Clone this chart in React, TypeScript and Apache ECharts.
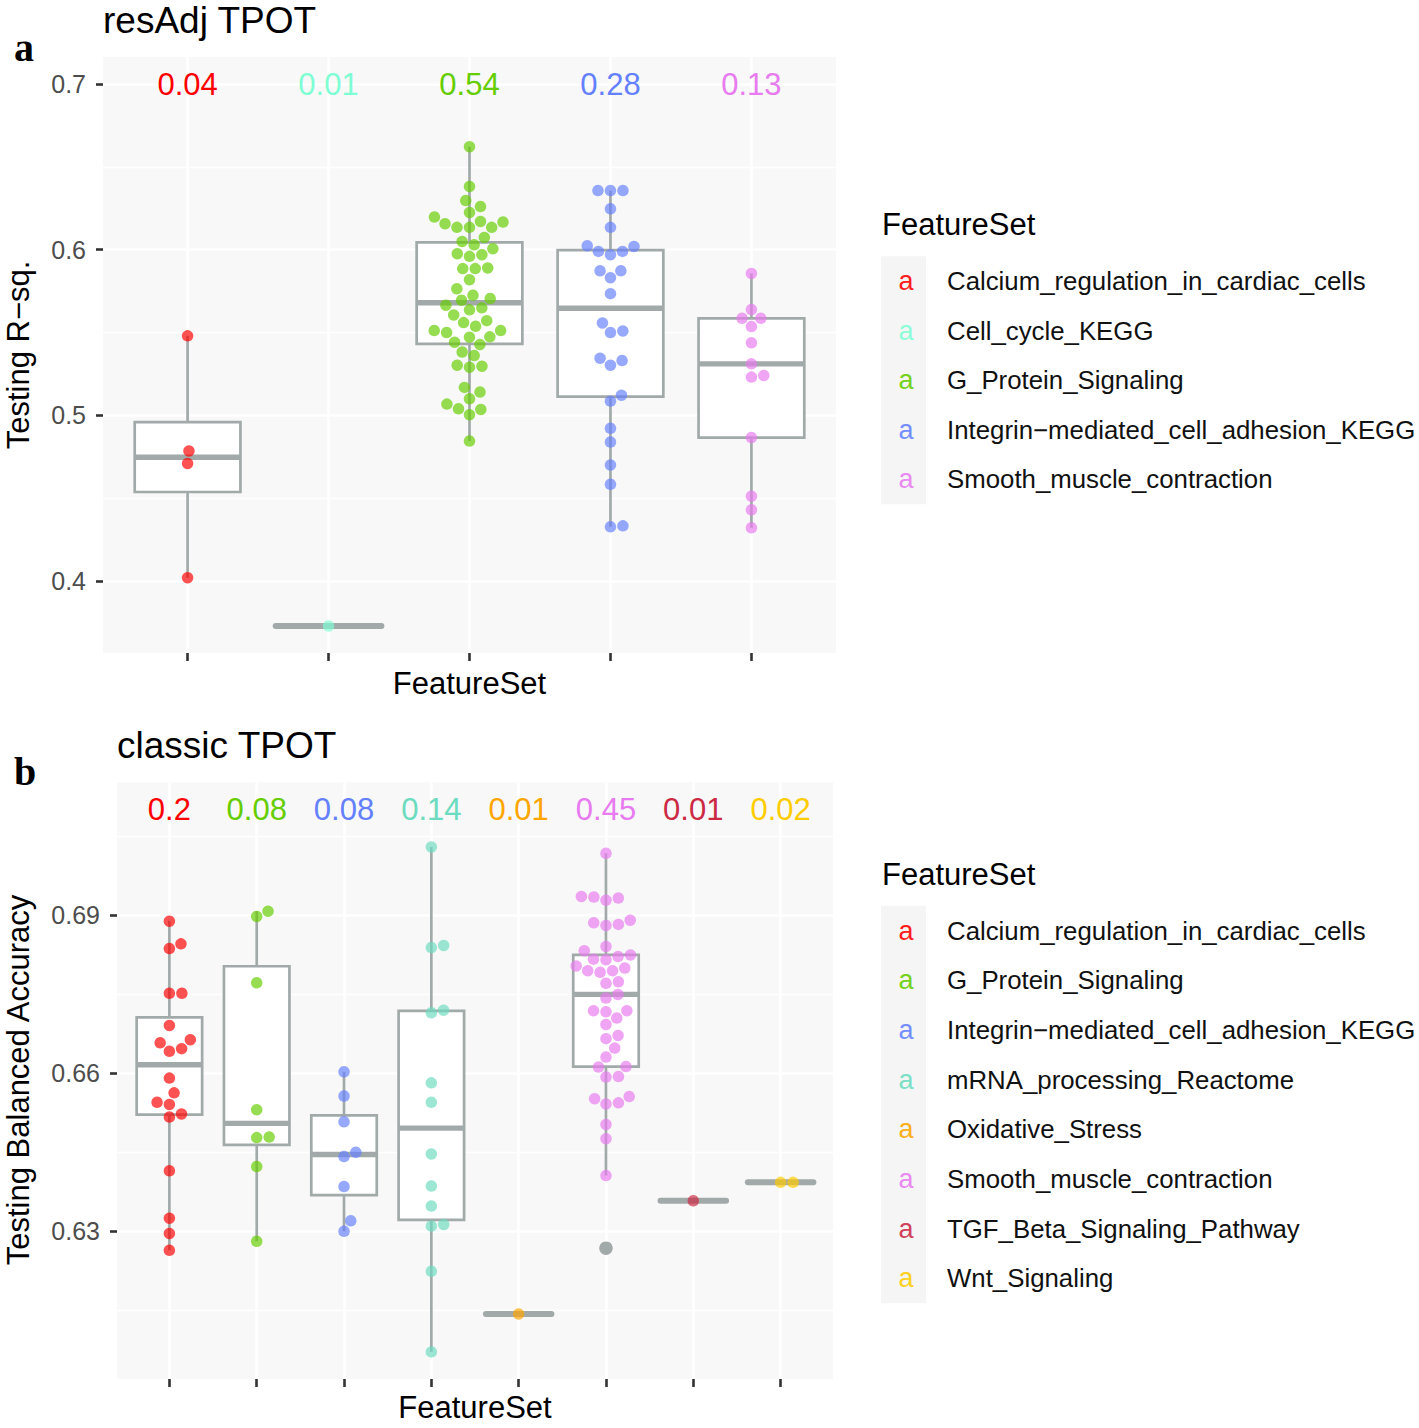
import React, { useEffect, useRef } from "react";
import * as echarts from "echarts";

// ---------------- DATA ----------------
const topCategories = [
  "Calcium_regulation_in_cardiac_cells",
  "Cell_cycle_KEGG",
  "G_Protein_Signaling",
  "Integrin−mediated_cell_adhesion_KEGG",
  "Smooth_muscle_contraction",
];
const topColors = ["#FF0000", "#7FFFD4", "#66CD00", "#6580FF", "#E77BEF"];
const topCalcium = [0.548, 0.4785, 0.471, 0.402];
const topCellCycle = [0.3729];
const topGProtein = [
  0.6622, 0.6382, 0.6297, 0.6261, 0.6225, 0.6197, 0.6171, 0.6167, 0.6157, 0.6135,
  0.6135, 0.6135, 0.6074, 0.605, 0.603, 0.6006, 0.5976, 0.597, 0.596, 0.589,
  0.5886, 0.5886, 0.5819, 0.5765, 0.5725, 0.5705, 0.5695, 0.5665, 0.5649, 0.5637,
  0.5606, 0.5572, 0.556, 0.5538, 0.5512, 0.5512, 0.55, 0.5474, 0.5472, 0.5442,
  0.5428, 0.5382, 0.5361, 0.5303, 0.5297, 0.5291, 0.5169, 0.5141, 0.51, 0.5068,
  0.504, 0.5036, 0.5004, 0.4845,
];
const topIntegrin = [
  0.6357, 0.6357, 0.6357, 0.6247, 0.6135, 0.6024, 0.602, 0.599, 0.599, 0.597,
  0.5873, 0.5873, 0.5831, 0.5735, 0.5558, 0.551, 0.55, 0.5345, 0.5331, 0.5303,
  0.5122, 0.5086, 0.4922, 0.4839, 0.4701, 0.4584, 0.4333, 0.4327,
];
const topSmooth = [
  0.5857, 0.5639, 0.5586, 0.5586, 0.5536, 0.5438, 0.5311, 0.5241, 0.5231, 0.4866,
  0.4512, 0.443, 0.4321,
];
const topValues = [topCalcium, topCellCycle, topGProtein, topIntegrin, topSmooth];
const topLabels = ["0.04", "0.01", "0.54", "0.28", "0.13"];
const topLabelY = 0.7;
const topYTicks = [0.4, 0.5, 0.6, 0.7];
const topYMinor = [0.45, 0.55, 0.65];

const botCategories = [
  "Calcium_regulation_in_cardiac_cells",
  "G_Protein_Signaling",
  "Integrin−mediated_cell_adhesion_KEGG",
  "mRNA_processing_Reactome",
  "Oxidative_Stress",
  "Smooth_muscle_contraction",
  "TGF_Beta_Signaling_Pathway",
  "Wnt_Signaling",
];
const botColors = ["#FF0000", "#66CD00", "#6580FF", "#6CDCC0", "#FFA500", "#E77BEF", "#CC2A44", "#FFCC00"];
const botCalcium = [
  0.6888, 0.6845, 0.6836, 0.6751, 0.6751, 0.669, 0.6663, 0.6657, 0.6646, 0.6641,
  0.659, 0.6562, 0.6544, 0.654, 0.6522, 0.6516, 0.6414, 0.6324, 0.6295, 0.6263,
];
const botGProtein = [0.6907, 0.6897, 0.6771, 0.653, 0.6478, 0.6477, 0.6422, 0.628];
const botIntegrin = [0.6602, 0.6556, 0.6507, 0.6449, 0.6441, 0.6384, 0.6319, 0.6299];
const botMRNA = [
  0.7029, 0.6842, 0.6838, 0.6719, 0.6714, 0.6581, 0.6544, 0.6446, 0.6385, 0.6347,
  0.6312, 0.6309, 0.6223, 0.607,
];
const botOxidative = [0.6142];
const botSmooth = [
  0.7017, 0.6935, 0.6934, 0.6932, 0.6928, 0.689, 0.6885, 0.6882, 0.688, 0.684,
  0.6832, 0.6824, 0.6821, 0.6816, 0.6815, 0.6803, 0.6799, 0.6794, 0.6794, 0.6791,
  0.6773, 0.677, 0.6749, 0.6742, 0.6718, 0.6718, 0.6716, 0.6704, 0.6692, 0.6671,
  0.6665, 0.6647, 0.663, 0.6612, 0.6611, 0.6593, 0.6592, 0.6555, 0.6551, 0.6543,
  0.6541, 0.6502, 0.6475, 0.6405, 0.6267,
];
const botTGF = [0.6357];
const botWnt = [0.6392, 0.6392];
const botValues = [botCalcium, botGProtein, botIntegrin, botMRNA, botOxidative, botSmooth, botTGF, botWnt];
const botLabels = ["0.2", "0.08", "0.08", "0.14", "0.01", "0.45", "0.01", "0.02"];
const botLabelY = 0.71;
const botYTicks = [0.63, 0.66, 0.69];
const botYMinor = [0.615, 0.645, 0.675, 0.705];

// ---------------- STYLE ----------------
const FONT = "'Liberation Sans', Arial, Helvetica, sans-serif";
const SERIF = "'Liberation Serif', 'Times New Roman', serif";
const PANEL_BG = "#F7F8F7";
const BOX_COLOR = "#A2A9A9";
const BOX_WIDTH = 0.75;
const POINT_SIZE = 11.5;
const SWARM_D = 12.5;
const POINT_ALPHA = 0.85;

function hexToRgba(hex: string, a: number) {
  const n = parseInt(hex.slice(1), 16);
  return `rgba(${(n >> 16) & 255},${(n >> 8) & 255},${n & 255},${a})`;
}

function quantile(sorted: number[], p: number) {
  const h = (sorted.length - 1) * p;
  const lo = Math.floor(h);
  const hi = Math.ceil(h);
  return sorted[lo] + (h - lo) * (sorted[hi] - sorted[lo]);
}

function boxStats(values: number[]) {
  const s = [...values].sort((a, b) => a - b);
  const q1 = quantile(s, 0.25);
  const med = quantile(s, 0.5);
  const q3 = quantile(s, 0.75);
  const iqr = q3 - q1;
  const lf = q1 - 1.5 * iqr;
  const uf = q3 + 1.5 * iqr;
  const inside = s.filter((v) => v >= lf && v <= uf);
  return {
    lo: inside[0],
    q1,
    med,
    q3,
    hi: inside[inside.length - 1],
    outliers: s.filter((v) => v < lf || v > uf),
  };
}

// beeswarm "swarm" placement (ascending priority), in pixel space
function swarm(values: number[], pxPerUnit: number, d: number) {
  const idx = values.map((_, i) => i).sort((a, b) => values[a] - values[b]);
  const placed: { y: number; x: number }[] = [];
  const out = new Array(values.length).fill(0);
  for (const i of idx) {
    const yi = values[i] * pxPerUnit;
    const near = placed.filter((p) => Math.abs(p.y - yi) < d);
    const cands = [0];
    near.forEach((p) => cands.push(p.x + Math.sqrt(d * d - (yi - p.y) ** 2)));
    near.forEach((p) => cands.push(p.x - Math.sqrt(d * d - (yi - p.y) ** 2)));
    let best = Infinity;
    for (const c of cands) {
      const bad = near.some((p) => (c - p.x) ** 2 + (yi - p.y) ** 2 < d * d * 0.999);
      if (!bad && Math.abs(c) < Math.abs(best)) best = c;
    }
    out[i] = best;
    placed.push({ y: yi, x: best });
  }
  return out;
}

type Layout = { left: number; top: number; width: number; height: number };

function buildPanel(
  g: number,
  layout: Layout,
  colors: string[],
  groups: number[][],
  labels: string[],
  labelY: number,
  yTicks: number[],
  yMinor: number[]
) {
  const n = groups.length;
  const all = groups.flat().concat([labelY]);
  const dMin = Math.min(...all);
  const dMax = Math.max(...all);
  const pad = (dMax - dMin) * 0.05;
  const yMin = dMin - pad;
  const yMax = dMax + pad;
  const pxPerUnit = layout.height / (yMax - yMin);
  const catPx = layout.width / (n + 0.2);
  const xAxisIndex = g;
  const yAxisIndex = g * 2;

  const grid = {
    left: layout.left,
    top: layout.top,
    width: layout.width,
    height: layout.height,
    show: true,
    backgroundColor: PANEL_BG,
    borderWidth: 0,
    containLabel: false,
  };
  const cats = groups.map((_, i) => i + 1);
  const xAxis = {
    type: "value",
    gridIndex: g,
    min: 0.4,
    max: n + 0.6,
    axisLine: { show: false },
    axisTick: { show: true, length: 8, customValues: cats, lineStyle: { color: "#333333", width: 2.6 } },
    axisLabel: { show: false, customValues: cats },
    splitLine: { show: true, lineStyle: { color: "#FFFFFF", width: 2.6 } },
  };
  const yMajor = {
    type: "value",
    gridIndex: g,
    min: yMin,
    max: yMax,
    axisLine: { show: false },
    axisTick: { show: true, length: 7, customValues: yTicks, lineStyle: { color: "#333333", width: 2.6 } },
    axisLabel: {
      show: true,
      customValues: yTicks,
      fontSize: 25,
      color: "#4D4D4D",
      fontFamily: FONT,
      margin: 17,
      formatter: (v: number) => String(Math.round(v * 1000) / 1000),
    },
    splitLine: { show: true, lineStyle: { color: "#FFFFFF", width: 2.6 } },
    z: 1,
  };
  const yMinorAxis = {
    type: "value",
    gridIndex: g,
    min: yMin,
    max: yMax,
    axisLine: { show: false },
    axisTick: { show: false, customValues: yMinor },
    axisLabel: { show: false, customValues: yMinor },
    splitLine: { show: true, lineStyle: { color: "#FFFFFF", width: 1.3 } },
    z: 0,
  };

  const stats = groups.map(boxStats);
  const series: any[] = [];
  series.push({
    type: "custom",
    xAxisIndex,
    yAxisIndex,
    z: 2,
    silent: true,
    encode: { x: 0, y: [1, 2, 3, 4, 5] },
    data: stats.map((s, i) => [i + 1, s.lo, s.q1, s.med, s.q3, s.hi]),
    renderItem: (_params: any, api: any) => {
      const x = api.value(0) as number;
      const lo = api.value(1), q1 = api.value(2), med = api.value(3), q3 = api.value(4), hi = api.value(5);
      const half = BOX_WIDTH / 2;
      const tl = api.coord([x - half, q3]);
      const br = api.coord([x + half, q1]);
      const mL = api.coord([x - half, med]);
      const mR = api.coord([x + half, med]);
      const top = api.coord([x, hi]);
      const bot = api.coord([x, lo]);
      const flat = Math.abs(br[1] - tl[1]) < 0.5;
      return {
        type: "group",
        children: [
          { type: "line", shape: { x1: top[0], y1: top[1], x2: top[0], y2: tl[1] }, style: { stroke: BOX_COLOR, lineWidth: 2.7 } },
          { type: "line", shape: { x1: bot[0], y1: br[1], x2: bot[0], y2: bot[1] }, style: { stroke: BOX_COLOR, lineWidth: 2.7 } },
          {
            type: "rect",
            shape: { x: tl[0], y: tl[1], width: br[0] - tl[0], height: br[1] - tl[1] },
            style: { fill: "#FFFFFF", stroke: BOX_COLOR, lineWidth: 2.7 },
          },
          {
            type: "line",
            shape: { x1: mL[0], y1: mL[1], x2: mR[0], y2: mR[1] },
            style: { stroke: BOX_COLOR, lineWidth: flat ? 6 : 5.4, lineCap: flat ? "round" : "butt" },
          },
        ],
      };
    },
  });

  groups.forEach((vals, i) => {
    const off = swarm(vals, pxPerUnit, SWARM_D);
    series.push({
      type: "scatter",
      xAxisIndex,
      yAxisIndex,
      z: 3,
      silent: true,
      symbol: "circle",
      symbolSize: POINT_SIZE,
      itemStyle: { color: hexToRgba(colors[i], POINT_ALPHA), borderWidth: 0 },
      data: vals.map((v, j) => [i + 1 + off[j] / catPx, v]),
    });
  });

  const outliers: number[][] = [];
  stats.forEach((s, i) => s.outliers.forEach((v) => outliers.push([i + 1, v])));
  series.push({
    type: "scatter",
    xAxisIndex,
    yAxisIndex,
    z: 10,
    silent: true,
    symbol: "circle",
    symbolSize: 13.5,
    itemStyle: { color: BOX_COLOR, opacity: 1 },
    data: outliers,
  });

  series.push({
    type: "custom",
    xAxisIndex,
    yAxisIndex,
    z: 11,
    silent: true,
    encode: { x: 0, y: 1 },
    data: labels.map((_, i) => [i + 1, labelY]),
    renderItem: (params: any, api: any) => {
      const p = api.coord([api.value(0), api.value(1)]);
      return {
        type: "text",
        x: p[0],
        y: p[1],
        style: {
          text: labels[params.dataIndex],
          fill: colors[params.dataIndex],
          fontSize: 31,
          fontFamily: FONT,
          align: "center",
          verticalAlign: "middle",
        },
      };
    },
  });

  return { grid, xAxis, yAxes: [yMajor, yMinorAxis], series };
}

function legendGraphics(title: string, titleY: number, cats: string[], colors: string[], firstY: number, step: number) {
  const els: any[] = [];
  els.push({
    type: "text",
    x: 882,
    y: titleY,
    style: { text: title, fontSize: 31, fontFamily: FONT, fill: "#000000", align: "left", verticalAlign: "middle" },
  });
  els.push({
    type: "rect",
    shape: { x: 881, y: firstY - step / 2, width: 45, height: step * cats.length },
    style: { fill: "#F4F5F4" },
  });
  cats.forEach((c, i) => {
    const y = firstY + i * step;
    els.push({
      type: "text",
      x: 906,
      y,
      style: { text: "a", fontSize: 27, fontFamily: FONT, fill: hexToRgba(colors[i], 0.9), align: "center", verticalAlign: "middle" },
    });
    els.push({
      type: "text",
      x: 947,
      y,
      style: { text: c, fontSize: 25.8, fontFamily: FONT, fill: "#111111", align: "left", verticalAlign: "middle" },
    });
  });
  return els;
}

export default function App() {
  const ref = useRef<HTMLDivElement>(null);
  useEffect(() => {
    document.body.style.margin = "0";
    if (!ref.current) return;
    const chart = echarts.init(ref.current, undefined, { renderer: "svg" });

    const top = buildPanel(0, { left: 103, top: 57, width: 733, height: 596 }, topColors, topValues, topLabels, topLabelY, topYTicks, topYMinor);
    const bot = buildPanel(1, { left: 117, top: 782.5, width: 716, height: 596.5 }, botColors, botValues, botLabels, botLabelY, botYTicks, botYMinor);

    const graphic: any[] = [
      { type: "text", x: 14, y: 47, style: { text: "a", fontSize: 40, fontWeight: "bold", fontFamily: SERIF, fill: "#000", align: "left", verticalAlign: "middle" } },
      { type: "text", x: 103, y: 20, style: { text: "resAdj TPOT", fontSize: 37, fontFamily: FONT, fill: "#000", align: "left", verticalAlign: "middle" } },
      { type: "text", x: 18, y: 355, rotation: Math.PI / 2, style: { text: "Testing R−sq.", fontSize: 31, fontFamily: FONT, fill: "#000", align: "center", verticalAlign: "middle" } },
      { type: "text", x: 469.5, y: 683, style: { text: "FeatureSet", fontSize: 31, fontFamily: FONT, fill: "#000", align: "center", verticalAlign: "middle" } },
      { type: "text", x: 14, y: 771, style: { text: "b", fontSize: 40, fontWeight: "bold", fontFamily: SERIF, fill: "#000", align: "left", verticalAlign: "middle" } },
      { type: "text", x: 117, y: 745, style: { text: "classic TPOT", fontSize: 37, fontFamily: FONT, fill: "#000", align: "left", verticalAlign: "middle" } },
      { type: "text", x: 18, y: 1080, rotation: Math.PI / 2, style: { text: "Testing Balanced Accuracy", fontSize: 31, fontFamily: FONT, fill: "#000", align: "center", verticalAlign: "middle" } },
      { type: "text", x: 475, y: 1407, style: { text: "FeatureSet", fontSize: 31, fontFamily: FONT, fill: "#000", align: "center", verticalAlign: "middle" } },
      ...legendGraphics("FeatureSet", 224, topCategories, topColors, 281, 49.6),
      ...legendGraphics("FeatureSet", 874, botCategories, botColors, 930.5, 49.7),
    ];

    chart.setOption({
      animation: false,
      backgroundColor: "#FFFFFF",
      grid: [top.grid, bot.grid],
      xAxis: [top.xAxis, bot.xAxis],
      yAxis: [...top.yAxes, ...bot.yAxes],
      series: [...top.series, ...bot.series],
      graphic,
    });
    return () => chart.dispose();
  }, []);
  return <div ref={ref} style={{ width: 1419, height: 1428 }} />;
}
